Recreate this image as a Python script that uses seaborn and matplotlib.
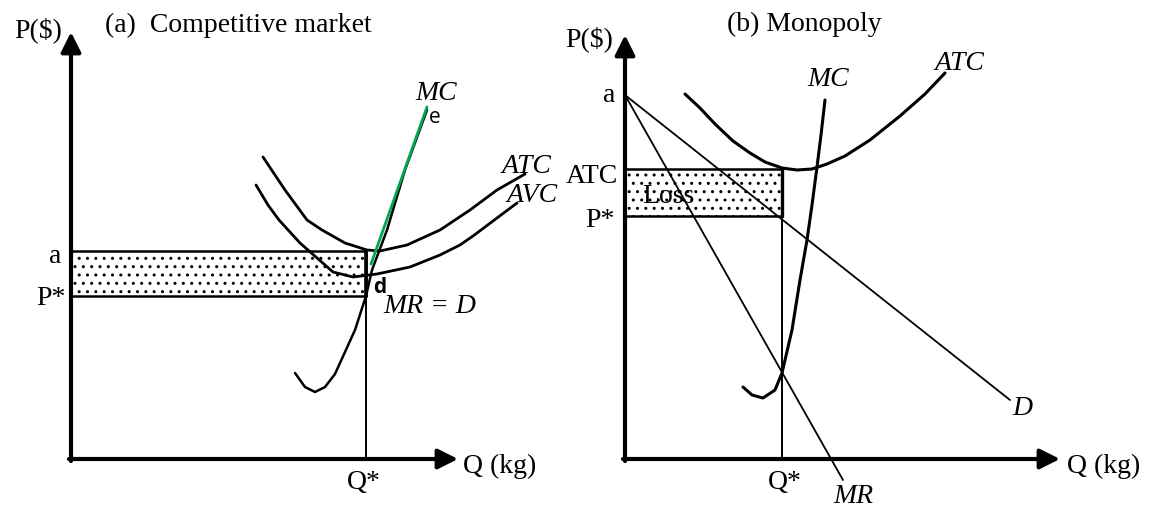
import matplotlib
matplotlib.use("Agg")
import matplotlib.pyplot as plt
import seaborn as sns
from matplotlib.patches import Rectangle

# ---- panel (a) competitive market : points (Q, P units)
comp_a = 208
comp_pstar = 163
comp_qstar = 295

comp_mc_q = [224, 234, 244, 254, 264, 274, 284, 295, 301, 316, 334, 356]
comp_mc_p = [86, 72, 67, 72, 85, 107, 129, 163, 189, 229, 289, 349]

comp_mc_green_q = [300, 356]
comp_mc_green_p = [195, 352]

comp_atc_q = [192, 214, 236, 251, 274, 296, 309, 336, 369, 399, 426, 454]
comp_atc_p = [302, 269, 239, 229, 216, 209, 208, 214, 229, 249, 269, 285]

comp_avc_q = [185, 197, 208, 229, 262, 282, 306, 339, 369, 389, 402, 446]
comp_avc_p = [274, 254, 239, 216, 187, 182, 185, 192, 204, 214, 223, 256]

# ---- panel (b) monopoly
mono_a = 364
mono_atc_level = 290
mono_pstar = 243
mono_qstar = 157

mono_d_q = [0, 385]
mono_d_p = [364, 59]

mono_mr_q = [0, 218]
mono_mr_p = [364, -21]

mono_atc_q = [60, 75, 90, 108, 125, 140, 157, 172, 187, 202, 220, 245, 275, 300, 320]
mono_atc_p = [365, 351, 335, 318, 306, 297, 291, 289, 290, 295, 303, 319, 343, 365, 386]

mono_mc_q = [118, 127, 138, 150, 157, 167, 175, 182, 187, 192, 196, 200]
mono_mc_p = [72, 64, 61, 69, 86, 129, 179, 219, 254, 292, 324, 359]

sns.set_theme(style="white")
plt.rcParams["font.family"] = ["Liberation Serif", "DejaVu Serif"]
plt.rcParams["text.color"] = "black"
plt.rcParams["hatch.linewidth"] = 1.0
plt.rcParams["hatch.color"] = "black"

INK = "#000000"
fig = plt.figure(figsize=(11.49, 5.07), dpi=100)
ax1 = fig.add_axes([0, 0, 575 / 1149, 1])
ax2 = fig.add_axes([575 / 1149, 0, 574 / 1149, 1])
ax1.set_xlim(-71, 504)
ax1.set_ylim(-48, 459)
ax2.set_xlim(-50, 524)
ax2.set_ylim(-48, 459)
for ax in (ax1, ax2):
    ax.set_axis_off()

FS = 20
arrow = dict(arrowstyle="-|>,head_length=0.6,head_width=0.3", lw=3, color=INK,
             mutation_scale=20, shrinkA=0, shrinkB=0)


def axes_arrows(ax, qmax, pmax):
    ax.annotate("", xy=(0, pmax), xytext=(0, -2), arrowprops=arrow)
    ax.annotate("", xy=(qmax, 0), xytext=(-2, 0), arrowprops=arrow)


# ================= (a) =================
ax1.add_patch(Rectangle((0, comp_pstar), comp_qstar, comp_a - comp_pstar,
                        facecolor="white", edgecolor=INK, lw=1.8, hatch="..", zorder=1))
ax1.plot([comp_qstar, comp_qstar], [comp_pstar, comp_a], color=INK, lw=2.6, zorder=2)
ax1.plot([comp_qstar, comp_qstar], [0, comp_pstar], color=INK, lw=1.4, zorder=2)

sns.lineplot(x=comp_atc_q, y=comp_atc_p, sort=False, estimator=None, color=INK, lw=2, ax=ax1)
sns.lineplot(x=comp_avc_q, y=comp_avc_p, sort=False, estimator=None, color=INK, lw=2, ax=ax1)
sns.lineplot(x=comp_mc_q, y=comp_mc_p, sort=False, estimator=None, color=INK, lw=1.8, ax=ax1)
sns.lineplot(x=comp_mc_green_q, y=comp_mc_green_p, sort=False, estimator=None,
             color="#00a651", lw=2, ax=ax1)
axes_arrows(ax1, 387, 427)

ax1.text(-9, 422, "P($)", fontsize=FS, ha="right", va="baseline")
ax1.text(34, 427, "(a)  Competitive market", fontsize=FS, ha="left", va="baseline")
ax1.text(-10, 196, "a", fontsize=FS, ha="right", va="baseline")
ax1.text(-5, 154, "P*", fontsize=FS, ha="right", va="baseline")
ax1.text(comp_qstar - 2, -30, "Q*", fontsize=FS, ha="center", va="baseline")
ax1.text(392, -14, "Q (kg)", fontsize=FS, ha="left", va="baseline")
ax1.text(312, 146, "MR = D", fontsize=FS, style="italic", ha="left", va="baseline")
ax1.text(344, 359, "MC", fontsize=FS, style="italic", ha="left", va="baseline")
ax1.text(431, 286, "ATC", fontsize=FS, style="italic", ha="left", va="baseline")
ax1.text(436, 257, "AVC", fontsize=FS, style="italic", ha="left", va="baseline")
ax1.text(302, 166, "d", fontsize=15, family=["Open Sans"], fontweight="bold",
         ha="left", va="baseline")
ax1.text(358, 336, "e", fontsize=15, family=["Open Sans"], ha="left", va="baseline")

# ================= (b) =================
ax2.add_patch(Rectangle((0, mono_pstar), mono_qstar, mono_atc_level - mono_pstar,
                        facecolor="white", edgecolor=INK, lw=1.8, hatch="..", zorder=1))
ax2.plot([mono_qstar, mono_qstar], [mono_pstar, mono_atc_level], color=INK, lw=2.4, zorder=2)
ax2.plot([mono_qstar, mono_qstar], [0, mono_pstar], color=INK, lw=1.4, zorder=2)

sns.lineplot(x=mono_d_q, y=mono_d_p, sort=False, estimator=None, color=INK, lw=1.3, ax=ax2)
sns.lineplot(x=mono_mr_q, y=mono_mr_p, sort=False, estimator=None, color=INK, lw=1.3, ax=ax2)
sns.lineplot(x=mono_atc_q, y=mono_atc_p, sort=False, estimator=None, color=INK, lw=2.2, ax=ax2)
sns.lineplot(x=mono_mc_q, y=mono_mc_p, sort=False, estimator=None, color=INK, lw=2.2, ax=ax2)
axes_arrows(ax2, 435, 424)

ax2.text(-12, 413, "P($)", fontsize=FS, ha="right", va="baseline")
ax2.text(102, 428, "(b) Monopoly", fontsize=FS, ha="left", va="baseline")
ax2.text(-10, 357, "a", fontsize=FS, ha="right", va="baseline")
ax2.text(-7, 276, "ATC", fontsize=FS, ha="right", va="baseline")
ax2.text(-10, 232, "P*", fontsize=FS, ha="right", va="baseline")
ax2.text(17, 256, "Loss", fontsize=FS, ha="left", va="baseline")
ax2.text(mono_qstar + 3, -30, "Q*", fontsize=FS, ha="center", va="baseline")
ax2.text(442, -14, "Q (kg)", fontsize=FS, ha="left", va="baseline")
ax2.text(182, 373, "MC", fontsize=FS, style="italic", ha="left", va="baseline")
ax2.text(310, 389, "ATC", fontsize=FS, style="italic", ha="left", va="baseline")
ax2.text(387, 44, "D", fontsize=FS, style="italic", ha="left", va="baseline")
ax2.text(208, -44, "MR", fontsize=FS, style="italic", ha="left", va="baseline")

fig.savefig("out.png", dpi=100, facecolor="white")
